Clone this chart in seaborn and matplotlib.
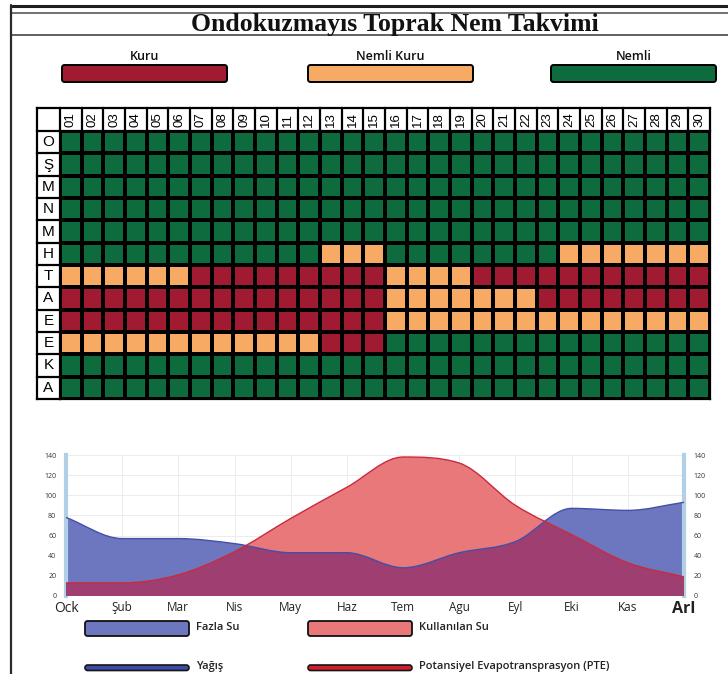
import numpy as np
import pandas as pd
import matplotlib
matplotlib.use("Agg")
import matplotlib.pyplot as plt
import seaborn as sns
from matplotlib.colors import ListedColormap
from matplotlib.patches import FancyBboxPatch, PathPatch
from matplotlib.path import Path
from matplotlib.lines import Line2D
from matplotlib.transforms import Affine2D

# --- data ---
title = "Ondokuzmayıs Toprak Nem Takvimi"
class_names = ["Kuru", "Nemli Kuru", "Nemli"]
row_labels = ["O", "Ş", "M", "N", "M", "H", "T", "A", "E", "E", "K", "A"]
day_labels = ["01", "02", "03", "04", "05", "06", "07", "08", "09", "10",
              "11", "12", "13", "14", "15", "16", "17", "18", "19", "20",
              "21", "22", "23", "24", "25", "26", "27", "28", "29", "30"]
# K = kuru, Y = nemli kuru, N = nemli (one char per day)
nem_rows = [
    "NNNNNNNNNNNNNNNNNNNNNNNNNNNNNN",
    "NNNNNNNNNNNNNNNNNNNNNNNNNNNNNN",
    "NNNNNNNNNNNNNNNNNNNNNNNNNNNNNN",
    "NNNNNNNNNNNNNNNNNNNNNNNNNNNNNN",
    "NNNNNNNNNNNNNNNNNNNNNNNNNNNNNN",
    "NNNNNNNNNNNNYYYNNNNNNNNYYYYYYY",
    "YYYYYYKKKKKKKKKYYYYKKKKKKKKKKK",
    "KKKKKKKKKKKKKKKYYYYYYYKKKKKKKK",
    "KKKKKKKKKKKKKKKYYYYYYYYYYYYYYY",
    "YYYYYYYYYYYYKKKNNNNNNNNNNNNNNN",
    "NNNNNNNNNNNNNNNNNNNNNNNNNNNNNN",
    "NNNNNNNNNNNNNNNNNNNNNNNNNNNNNN",
]
month_labels = ["Ock", "Şub", "Mar", "Nis", "May", "Haz",
                "Tem", "Agu", "Eyl", "Eki", "Kas", "Arl"]
yagis = [78, 57, 57, 52, 43, 43, 28, 43, 54, 87, 85, 93]
pte = [13, 13, 21, 44, 77, 108, 138, 132, 90, 61, 33, 19]
legend_fill = ["Fazla Su", "Kullanılan Su"]
legend_line = ["Yağış", "Potansiyel Evapotransprasyon (PTE)"]

c_kuru, c_nemkuru, c_nemli = "#A01B32", "#F6AA64", "#0E6B3E"
c_blue_fill, c_red_fill, c_overlap = "#6D77BF", "#E8787A", "#9F3E71"
c_blue_line, c_red_line = "#4350A6", "#C92B3E"

sns.set_theme(style="white")
plt.rcParams["font.family"] = ["Open Sans", "DejaVu Sans"]

W, H = 728, 674
fig = plt.figure(figsize=(W / 100, H / 100), dpi=100)
fig.patch.set_facecolor("white")
pix = Affine2D().scale(1 / W, -1 / H).translate(0, 1) + fig.transFigure


def axes_px(x0, y0, x1, y1):
    return fig.add_axes([x0 / W, 1 - y1 / H, (x1 - x0) / W, (y1 - y0) / H])


# frame and title box
fig.add_artist(Line2D([11, 728], [6, 6], transform=pix, color="#1e1e1e", lw=2.2))
fig.add_artist(Line2D([11, 728], [12.5, 12.5], transform=pix, color="#666", lw=1.3))
fig.add_artist(Line2D([11, 728], [34.5, 34.5], transform=pix, color="#555", lw=1.3))
fig.add_artist(Line2D([11, 11], [5, 674], transform=pix, color="#2a2a2a", lw=1.6))
fig.text(395 / W, 1 - 24 / H, title, ha="center", va="center", fontsize=18.5,
         fontweight="bold", family="Liberation Serif", color="#111")

# top legend
for name, col, x0 in zip(class_names, [c_kuru, c_nemkuru, c_nemli], [62, 308, 551]):
    fig.add_artist(FancyBboxPatch((x0, 65), 165, 17, transform=pix,
                                  boxstyle="round,pad=0,rounding_size=2.5",
                                  fc=col, ec="black", lw=1.4))
    fig.text((x0 + 82.5) / W, 1 - 57 / H, name, ha="center", va="center",
             fontsize=9, fontweight="semibold", color="#111")

# moisture calendar
codes = {"K": 0, "Y": 1, "N": 2}
grid = pd.DataFrame([[codes[c] for c in r] for r in nem_rows],
                    columns=day_labels)
hm = axes_px(60, 131, 710, 399)
sns.heatmap(grid, ax=hm, cmap=ListedColormap([c_kuru, c_nemkuru, c_nemli]),
            vmin=-0.5, vmax=2.5, cbar=False, linewidths=1.6, linecolor="black",
            xticklabels=day_labels, yticklabels=row_labels)
hm.xaxis.tick_top()
hm.tick_params(axis="x", length=0, pad=3, labelrotation=90, labelsize=9.5)
hm.tick_params(axis="y", length=0, pad=8.3, labelrotation=0, labelsize=11)
for t in hm.get_xticklabels():
    t.set_family("Liberation Sans")
    t.set_color("black")
for t in hm.get_yticklabels():
    t.set_family("Liberation Sans")
    t.set_ha("center")
    t.set_color("black")

hdr = -23 / (268 / 12)
lab = -23 / (650 / 30)
kw = dict(color="black", lw=1.6, clip_on=False, solid_capstyle="projecting")
for j in range(31):
    hm.plot([j, j], [hdr, 12 if j in (0, 30) else 0], **kw)
for i in range(13):
    hm.plot([lab, 0], [i, i], **kw)
hm.plot([lab, 30], [hdr, hdr], **kw)
hm.plot([lab, lab], [hdr, 12], **kw)
hm.plot([0, 30], [12, 12], **kw)
hm.plot([0, 30], [0, 0], **kw)


# water balance chart
def monotone_path(xs, ys, closed=False):
    x = np.asarray(xs, float)
    y = np.asarray(ys, float)
    n = len(x)
    d = np.diff(y) / np.diff(x)
    m = np.zeros(n)
    m[0], m[-1] = d[0], d[-1]
    for k in range(1, n - 1):
        m[k] = 0 if d[k - 1] * d[k] <= 0 else (d[k - 1] + d[k]) / 2
    for k in range(n - 1):
        if d[k] == 0:
            m[k] = m[k + 1] = 0
        else:
            a, b = m[k] / d[k], m[k + 1] / d[k]
            s = a * a + b * b
            if s > 9:
                t = 3 / np.sqrt(s)
                m[k], m[k + 1] = t * a * d[k], t * b * d[k]
    verts = [(x[0], y[0])]
    cds = [Path.MOVETO]
    for k in range(n - 1):
        h = x[k + 1] - x[k]
        verts += [(x[k] + h / 3, y[k] + m[k] * h / 3),
                  (x[k + 1] - h / 3, y[k + 1] - m[k + 1] * h / 3),
                  (x[k + 1], y[k + 1])]
        cds += [Path.CURVE4] * 3
    if closed:
        verts += [(x[-1], 0), (x[0], 0), (x[0], y[0])]
        cds += [Path.LINETO, Path.LINETO, Path.CLOSEPOLY]
    return Path(verts, cds)


xs = np.arange(len(month_labels))
ax = axes_px(66, 455, 684, 596)
ax.set_xlim(0, len(month_labels) - 1)
ax.set_ylim(0, 140)

blue_area = PathPatch(monotone_path(xs, yagis, True), fc=c_blue_fill, ec="none", zorder=2)
red_area = PathPatch(monotone_path(xs, pte, True), fc=c_red_fill, ec="none", zorder=3)
ax.add_patch(blue_area)
ax.add_patch(red_area)
overlap = PathPatch(monotone_path(xs, yagis, True), fc=c_overlap, ec="none", zorder=4)
ax.add_patch(overlap)
overlap.set_clip_path(red_area)
ax.add_patch(PathPatch(monotone_path(xs, yagis), fc="none", ec=c_blue_line, lw=1.0, zorder=5))
ax.add_patch(PathPatch(monotone_path(xs, pte), fc="none", ec=c_red_line, lw=1.0, zorder=6))

ax.set_yticks(range(0, 141, 20))
ax.set_xticks(xs)
ax.set_xticklabels(month_labels)
ax.grid(True, color="#ececec", lw=0.7)
ax.set_axisbelow(True)
for s in ["top", "bottom"]:
    ax.spines[s].set_visible(False)
for s in ["left", "right"]:
    ax.spines[s].set_color("#b3cfe6")
    ax.spines[s].set_linewidth(3)
ax.tick_params(axis="y", length=0, labelsize=5, labelcolor="#333",
               labelleft=True, labelright=True, pad=7)
ax.tick_params(axis="x", length=0, labelsize=8.5, labelcolor="#222", pad=3.5)
xt = ax.get_xticklabels()
xt[0].set_fontsize(10)
xt[-1].set_fontsize(11.5)
xt[-1].set_fontweight("bold")

# bottom legend
for name, col, x0 in zip(legend_fill, [c_blue_fill, c_red_fill], [85, 308]):
    fig.add_artist(FancyBboxPatch((x0, 621), 104, 15, transform=pix,
                                  boxstyle="round,pad=0,rounding_size=2.5",
                                  fc=col, ec="#111", lw=1.3))
    fig.text((x0 + 111) / W, 1 - 628 / H, name, ha="left", va="center",
             fontsize=8, fontweight="semibold", color="#222")
for name, col, x0 in zip(legend_line, ["#3A4CA6", "#D21F2E"], [85, 308]):
    fig.add_artist(FancyBboxPatch((x0, 665), 104, 5.5, transform=pix,
                                  boxstyle="round,pad=0,rounding_size=2.7",
                                  fc=col, ec="#151515", lw=1.2))
    fig.text((x0 + 111) / W, 1 - 667 / H, name, ha="left", va="center",
             fontsize=8, fontweight="semibold", color="#222")

fig.savefig("out.png", dpi=100)
